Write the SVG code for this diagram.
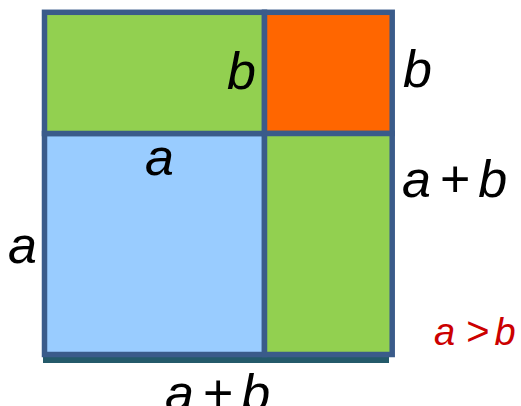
<svg xmlns="http://www.w3.org/2000/svg" width="521" height="406" viewBox="0 0 521 406">
  <style>
    .cell { stroke: #3a5b8a; stroke-width: 5.5; }
    .lbl { font-family: "Liberation Sans", Arial, sans-serif; font-style: italic; font-size: 52px; fill: #000; }
    .op { font-style: normal; font-weight: 300; }
    .red { fill: #cc0000; font-size: 38px; }
    .gt { font-size: 40px; }
  </style>
  <rect width="521" height="406" fill="#ffffff"/>
  <g id="shadow">
    <rect x="43" y="352" width="346" height="11" fill="#245a6a"/>
  </g>
  <g id="square-a">
    <rect class="cell" x="44.5" y="133.5" width="220" height="221" fill="#99ccff"/>
  </g>
  <g id="rect-ab-top">
    <rect class="cell" x="44.5" y="12.3" width="220" height="121.2" fill="#92d050"/>
  </g>
  <g id="square-b">
    <rect class="cell" x="264.5" y="12.3" width="127.7" height="121.2" fill="#ff6600"/>
  </g>
  <g id="rect-ab-right">
    <rect class="cell" x="264.5" y="133.5" width="127.7" height="221" fill="#92d050"/>
  </g>
  <g id="labels">
    <text class="lbl" x="227" y="89">b</text>
    <text class="lbl" x="403" y="87">b</text>
    <text class="lbl" x="145" y="175">a</text>
    <text class="lbl" x="8" y="263">a</text>
    <text class="lbl" x="402" y="197">a<tspan class="op" dx="9">+</tspan><tspan dx="8">b</tspan></text>
    <text class="lbl" x="165" y="411">a<tspan class="op" dx="9">+</tspan><tspan dx="8">b</tspan></text>
    <text class="lbl red" x="434" y="345">a<tspan class="op gt" dx="11">&gt;</tspan><tspan dx="5">b</tspan></text>
  </g>
</svg>
